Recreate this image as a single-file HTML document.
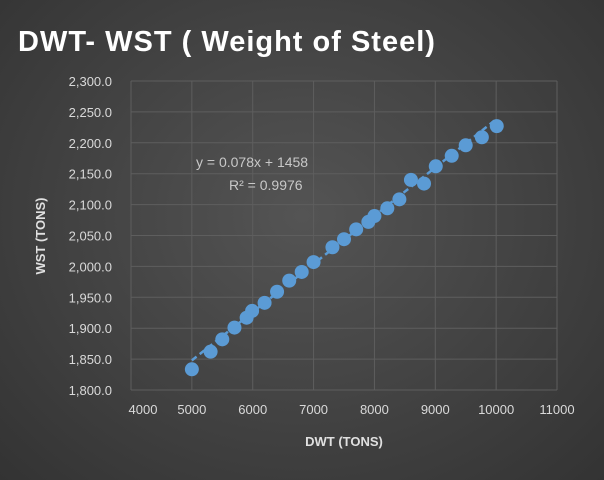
<!DOCTYPE html>
<html><head><meta charset="utf-8"><style>
html,body{margin:0;padding:0;width:604px;height:480px;overflow:hidden}
body{background:radial-gradient(ellipse at 50% 45%,#545454 0%,#404040 60%,#333 100%);font-family:"Liberation Sans",sans-serif}
</style></head><body>
<svg id="chart" width="604" height="480" xmlns="http://www.w3.org/2000/svg">
<text x="18" y="51" fill="#fff" font-size="29" font-weight="bold" font-family="Liberation Sans, sans-serif" letter-spacing="1">DWT- WST ( Weight of Steel)</text>
<g id="grid"></g><g id="ticks"></g><g id="marks"></g>
<text x="196" y="167" fill="#c8c8c8" font-size="14">y = 0.078x + 1458</text>
<text x="229" y="190" fill="#c8c8c8" font-size="14">R² = 0.9976</text>
<text transform="translate(45,236) rotate(-90)" text-anchor="middle" fill="#e0e0e0" font-size="13" font-weight="bold">WST (TONS)</text>
<text x="344" y="446" text-anchor="middle" fill="#e0e0e0" font-size="13" font-weight="bold">DWT (TONS)</text>
</svg>
<script>
const xTicks=[4000,5000,6000,7000,8000,9000,10000,11000];
const yTicks=[1800,1850,1900,1950,2000,2050,2100,2150,2200,2250,2300];
const dwt=[5000,5308,5500,5700,5900,5990,6195,6400,6600,6805,7000,7310,7500,7700,7900,8000,8212,8410,8600,8815,9008,9270,9500,9765,10010];
const wst=[1833.5,1862,1882,1901,1917,1928,1941,1959,1977,1991,2007,2031,2044,2060,2072,2081.5,2094,2108.5,2140,2134,2162,2179,2196,2209,2227];
const slope=0.078, intercept=1458;
const L=131,R=557,T=81,B=390;
const sx=v=>L+(v-4000)/(11000-4000)*(R-L);
const sy=v=>B-(v-1800)/(2300-1800)*(B-T);
const NS="http://www.w3.org/2000/svg";
function mk(tag,attrs,parent){const e=document.createElementNS(NS,tag);for(const k in attrs)e.setAttribute(k,attrs[k]);document.getElementById(parent).appendChild(e);return e;}
xTicks.forEach(v=>{
  const g=mk('line',{x1:sx(v),x2:sx(v),y1:T,y2:B,stroke:'#5e5e5e','stroke-width':1},'grid');
  
  
  const t=mk('text',{x:Math.max(sx(v),143),y:B+24,'text-anchor':'middle',fill:'#d9d9d9','font-size':13},'ticks');
  t.textContent=v;
  
  
});
yTicks.forEach(v=>{
  const g=mk('line',{x1:L,x2:R,y1:sy(v),y2:sy(v),stroke:'#5e5e5e','stroke-width':1},'grid');
  
  
  const t=mk('text',{x:L-19,y:sy(v)+5,'text-anchor':'end',fill:'#d9d9d9','font-size':13},'ticks');
  t.textContent=v.toLocaleString('en-US',{minimumFractionDigits:1,maximumFractionDigits:1});
  
  
});
const x0=Math.min(...dwt),x1=Math.max(...dwt);
const tl=mk('line',{x1:sx(x0),y1:sy(slope*x0+intercept),x2:sx(x1),y2:sy(slope*x1+intercept),stroke:'#5b9bd5','stroke-width':2.5,'stroke-dasharray':'6,4'},'marks');


dwt.forEach((v,i)=>{
  const c=mk('circle',{cx:sx(v),cy:sy(wst[i]),r:7,fill:'#5b9bd5'},'marks');
  
  
});
</script>
</body></html>
